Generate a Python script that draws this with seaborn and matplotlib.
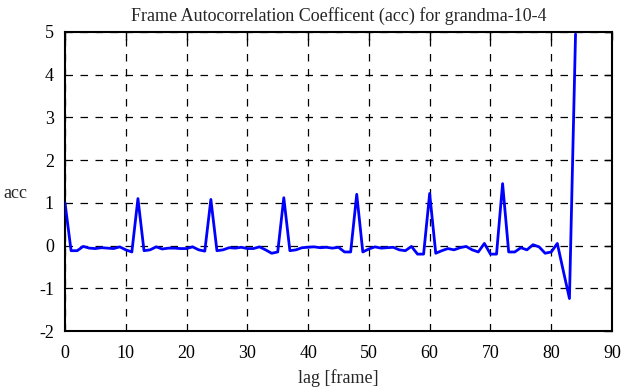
import matplotlib
matplotlib.use("Agg")
import matplotlib.pyplot as plt
import seaborn as sns
import pandas as pd

lags = list(range(85))
acc = [1.0, -0.12, -0.12, -0.02, -0.06, -0.07, -0.05, -0.06, -0.07, -0.03,
       -0.1, -0.15, 1.1, -0.12, -0.1, -0.03, -0.08, -0.06, -0.06, -0.07,
       -0.07, -0.03, -0.1, -0.13, 1.08, -0.12, -0.1, -0.05, -0.06, -0.04,
       -0.07, -0.07, -0.03, -0.1, -0.18, -0.15, 1.12, -0.12, -0.1, -0.05,
       -0.04, -0.03, -0.05, -0.04, -0.06, -0.04, -0.15, -0.15, 1.2, -0.15,
       -0.08, -0.03, -0.06, -0.05, -0.04, -0.1, -0.12, -0.02, -0.2, -0.2,
       1.22, -0.18, -0.12, -0.07, -0.1, -0.05, -0.02, -0.1, -0.15, 0.05,
       -0.2, -0.2, 1.45, -0.15, -0.15, -0.05, -0.1, 0.02, -0.03, -0.18,
       -0.15, 0.05, -0.6, -1.24, 4.95]
xticks = [0, 10, 20, 30, 40, 50, 60, 70, 80, 90]
yticks = [-2, -1, 0, 1, 2, 3, 4, 5]

sns.set_style("white")
plt.rcParams['font.family'] = ['Liberation Serif', 'DejaVu Serif']
plt.rcParams['axes.unicode_minus'] = False

df = pd.DataFrame({"lag": lags, "acc": acc})
fig = plt.figure(figsize=(6.26, 3.87), dpi=100)
ax = fig.add_axes([65/626, 1-331/387, (612-65)/626, (331-32)/387])
sns.lineplot(data=df, x="lag", y="acc", ax=ax, color="#0000ff", linewidth=2, zorder=3)
ax.set_xlim(0, 90)
ax.set_ylim(-2, 5)
ax.set_xticks(xticks)
ax.set_yticks(yticks)
ax.grid(True, color="black", linestyle=(0, (6, 6)), linewidth=0.9)
for s in ax.spines.values():
    s.set_color("black")
    s.set_linewidth(1.5)
ax.tick_params(direction="in", length=6, width=1, top=True, right=True,
               labelsize=13, colors="black")
ax.tick_params(axis="x", pad=10)
ax.tick_params(axis="y", pad=8)
ax.set_xlabel("lag [frame]", fontsize=13, labelpad=5)
ax.set_ylabel("acc", fontsize=13, rotation=0, va="center", ha="center")
ax.yaxis.set_label_coords(-0.091, 0.46)
ax.set_title("Frame Autocorrelation Coefficent (acc) for grandma-10-4", fontsize=13, pad=8)
fig.savefig("out.png", dpi=100)
